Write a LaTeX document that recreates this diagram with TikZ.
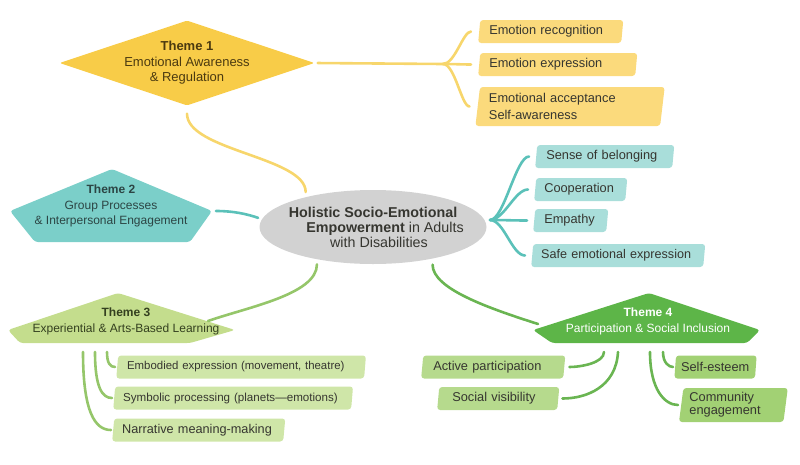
\documentclass[tikz,border=0pt]{standalone}
\usepackage{fontspec}
\setmainfont{Liberation Sans}
\usetikzlibrary{shapes.geometric}

\definecolor{yelDark}{HTML}{F8CC48}
\definecolor{yelLeaf}{HTML}{FBDA7C}
\definecolor{yelLine}{HTML}{F7D66C}
\definecolor{yelInk}{HTML}{4B3A10}
\definecolor{tealDark}{HTML}{7BCFC9}
\definecolor{tealLeaf}{HTML}{A9DEDA}
\definecolor{tealLine}{HTML}{5BC1B9}
\definecolor{tealInk}{HTML}{2C4544}
\definecolor{limeDark}{HTML}{C4DD8D}
\definecolor{limeLeaf}{HTML}{CFE6A8}
\definecolor{limeLine}{HTML}{95C66A}
\definecolor{limeInk}{HTML}{34401F}
\definecolor{grnDark}{HTML}{5DB548}
\definecolor{grnLeaf}{HTML}{B6DA8D}
\definecolor{grnLeafB}{HTML}{A2D174}
\definecolor{grnLine}{HTML}{6AB552}
\definecolor{hubGray}{HTML}{D2D2D2}
\definecolor{ink}{HTML}{363630}

\hyphenpenalty=10000
\exhyphenpenalty=10000

\tikzset{
  theme/.style={align=center, inner sep=0pt},
  leaf/.style={trapezium, trapezium left angle=80, trapezium right angle=100,
    trapezium stretches=true, rounded corners=3pt, inner ysep=0pt,
    align=left, anchor=west, text=ink},
  link/.style={line width=2.6pt, line cap=round},
}

\begin{document}
\begin{tikzpicture}[x=1pt, y=-1pt, font=\fontsize{12.8}{15.5}\selectfont]
  \useasboundingbox (0,0) rectangle (800,464);
  % ------------------------------------------------------------------ hub
  \node[ellipse, fill=hubGray, minimum width=227pt, minimum height=74pt, inner xsep=-12pt, inner ysep=0pt,
        align=center, text=ink, font=\fontsize{14.3}{15}\selectfont] (hub) at (373,227)
    {\textbf{Holistic Socio-Emotional}\\\hspace*{24pt}\textbf{Empowerment} in Adults\\\hspace*{12pt}with Disabilities};
  % ------------------------------------------------------------------ themes
  \node[diamond, aspect=3, fill=yelDark, minimum width=245pt, minimum height=80pt, inner sep=0pt,
        rounded corners=2pt, align=center, text=yelInk, font=\fontsize{13}{15.5}\selectfont] (t1) at (187,63)
    {\textbf{Theme 1}\\Emotional Awareness\\\& Regulation};
  \fill[tealDark, rounded corners=3pt] (112,169) -- (212,211) coordinate (t2e) -- (190,242) -- (35,242) -- (10,211) -- cycle;
  \node[theme, text=tealInk, font=\fontsize{12}{15.5}\selectfont] (t2) at (111,206)
    {\textbf{Theme 2}\\Group Processes\\\& Interpersonal Engagement};
  \fill[limeDark, rounded corners=3pt] (118,293) -- (235,330) -- (190,343) -- (20,343) -- (8,330) -- cycle;
  \node[theme, text=limeInk, font=\fontsize{12}{16}\selectfont] (t3) at (126,321)
    {\textbf{Theme 3}\\Experiential \& Arts-Based Learning};
  \fill[grnDark, rounded corners=3pt] (649,293) -- (760,330) -- (747,343) -- (552,343) -- (533,330) -- cycle;
  \node[theme, text=white, font=\fontsize{12}{16}\selectfont] (t4) at (648,321)
    {\textbf{Theme 4}\\Participation \& Social Inclusion};
  % ------------------------------------------------------------------ leaves
  % name / mid-left x / y / mid width / height / x padding / font size / fill / text
  \foreach \nm/\x/\y/\w/\h/\xs/\fs/\col/\txt in {
      b1a/479/31.5/145/23/9/12.8/yelLeaf/{Emotion recognition},
      b1b/479/64.5/159/23/9/12.8/yelLeaf/{Emotion expression},
      b1c/477.5/106.5/187/39/9/12.8/yelLeaf/{Emotional acceptance\\Self-awareness},
      b2a/536/156.5/139/23/9/12.8/tealLeaf/{Sense of belonging},
      b2b/535/189.5/93/23/8/12.8/tealLeaf/{Cooperation},
      b2c/534/220.5/75/23/9/12.8/tealLeaf/{Empathy},
      b2d/532/255.5/174/23/8/12.6/tealLeaf/{Safe emotional expression},
      b3a/117/367/250/23/9/11.4/limeLeaf/{Embodied expression (movement, theatre)},
      b3b/114/398/240/23/8/11.6/limeLeaf/{Symbolic processing (planets—emotions)},
      b3c/113/430/173/23/8/12.7/limeLeaf/{Narrative meaning-making},
      b4a/422/367/144/23/10/12.8/grnLeaf/{Active participation},
      b4b/438/398.5/122/23/13/12.8/grnLeaf/{Social visibility},
      b4c/675/367/83/23/5/12.8/grnLeafB/{Self-esteem},
      b4d/681/405/106/34/6/12.8/grnLeafB/{Community\\[-3.5pt]engagement}} {
    \pgfmathsetmacro{\tw}{\w-2*\xs-0.176*\h}
    \node[leaf, fill=\col, minimum height=\h pt, inner xsep=\xs pt, text width=\tw pt,
          font=\fontsize{\fs}{16.5}\selectfont] (\nm) at (\x,\y) {\txt};
  }
  % ------------------------------------------------------------------ theme 1 links
  \coordinate (j1) at (443,64);
  \draw[link, yelLine, shorten <=3pt] (t1.east) -- (j1);
  \foreach \b in {b1a,b1b,b1c}
    \draw[link, yelLine, shorten >=8pt] (j1) .. controls +(12,0) and +(-16,0) .. (\b.west);
  \draw[link, yelLine, shorten <=8pt, shorten >=5pt] (t1.south) .. controls +(0,45) and +(0,-40) .. (hub.156);
  % ------------------------------------------------------------------ theme 2 links
  \draw[link, tealLine, shorten <=4pt, shorten >=4pt] (t2e) .. controls +(22,0) and +(-14,-5) .. (hub.176);
  \coordinate (j2) at (490,220);
  \foreach \b in {b2a,b2b,b2c,b2d}
    \draw[link, tealLine, shorten >=7pt] (j2) .. controls +(14,0) and +(-20,0) .. (\b.west);
  % ------------------------------------------------------------------ theme 3 links
  \coordinate (t3c) at (208,321);
  \draw[link, limeLine, shorten <=5pt] (hub.210) .. controls +(0,35) and +(40,-14) .. (t3c);
  \foreach \i/\x in {1/83,2/95,3/107} \coordinate (t3s\i) at (\x,352);
  \draw[link, limeLine, shorten >=2pt] (t3s3) .. controls +(0,11) and +(-7,0) .. (b3a.west);
  \draw[link, limeLine, shorten >=2pt] (t3s2) .. controls +(0,35) and +(-12,0) .. (b3b.west);
  \draw[link, limeLine, shorten >=2pt] (t3s1) .. controls +(0,60) and +(-18,0) .. (b3c.west);
  % ------------------------------------------------------------------ theme 4 links
  \coordinate (t4c) at (538,324);
  \draw[link, grnLine, shorten <=6pt] (hub.332) .. controls +(0,30) and +(-50,-16) .. (t4c);
  \foreach \i/\x in {1/604,2/618,3/650,4/663} \coordinate (t4s\i) at (\x,352);
  \draw[link, grnLine, shorten >=5pt] (t4s1) .. controls +(0,11) and +(16,0) .. (b4a.east);
  \draw[link, grnLine, shorten >=4pt] (t4s2) .. controls +(-2,35) and +(28,0) .. (b4b.east);
  \draw[link, grnLine, shorten >=2pt] (t4s4) .. controls +(0,11) and +(-6,0) .. (b4c.west);
  \draw[link, grnLine, shorten >=3pt] (t4s3) .. controls +(0,38) and +(-16,0) .. (b4d.west);
\end{tikzpicture}
\end{document}
